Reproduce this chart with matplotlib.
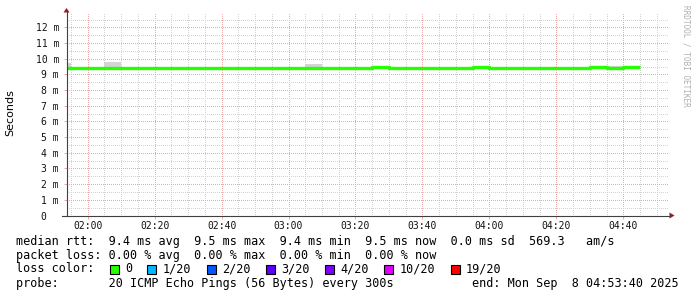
import matplotlib
matplotlib.use("Agg")
import matplotlib.pyplot as plt
from matplotlib.lines import Line2D
from matplotlib.patches import Polygon, Rectangle
from matplotlib.ticker import MultipleLocator, FuncFormatter

W, H = 697, 297

# 5 minute rrd steps (start of each step)
slot_start = ["01:50", "01:55", "02:00", "02:05", "02:10", "02:15", "02:20",
              "02:25", "02:30", "02:35", "02:40", "02:45", "02:50", "02:55",
              "03:00", "03:05", "03:10", "03:15", "03:20", "03:25", "03:30",
              "03:35", "03:40", "03:45", "03:50", "03:55", "04:00", "04:05",
              "04:10", "04:15", "04:20", "04:25", "04:30", "04:35", "04:40"]
median_ms = [9.44, 9.44, 9.38, 9.44, 9.44, 9.38, 9.44, 9.44, 9.44, 9.44,
             9.44, 9.39, 9.44, 9.42, 9.44, 9.44, 9.44, 9.44, 9.44, 9.46,
             9.44, 9.44, 9.44, 9.44, 9.38, 9.50, 9.44, 9.38, 9.44, 9.44,
             9.44, 9.44, 9.48, 9.40, 9.50]
smoke_lo = [9.44, 9.44, 9.38, 9.44, 9.44, 9.38, 9.44, 9.44, 9.44, 9.44,
            9.44, 9.39, 9.33, 9.33, 9.44, 9.44, 9.44, 9.44, 9.44, 9.37,
            9.44, 9.44, 9.44, 9.44, 9.38, 9.38, 9.44, 9.27, 9.44, 9.44,
            9.44, 9.44, 9.48, 9.40, 9.39]
smoke_hi = [9.73, 9.44, 9.38, 9.79, 9.44, 9.38, 9.44, 9.44, 9.44, 9.44,
            9.44, 9.47, 9.44, 9.42, 9.44, 9.68, 9.44, 9.44, 9.44, 9.46,
            9.44, 9.44, 9.44, 9.44, 9.38, 9.50, 9.44, 9.38, 9.44, 9.44,
            9.44, 9.44, 9.48, 9.52, 9.50]
slot_end = "04:45"
t_start = "01:53:40"
t_end = "04:53:40"

loss_labels = ["0", "1/20", "2/20", "3/20", "4/20", "10/20", "19/20"]
loss_colors = ["#26ff00", "#00b8ff", "#0059ff", "#5e00ff", "#7e00ff", "#dd00ff", "#ff0000"]

legend_rows = [
    "median rtt:  9.4 ms avg  9.5 ms max  9.4 ms min  9.5 ms now  0.0 ms sd  569.3   am/s",
    "packet loss: 0.00 % avg  0.00 % max  0.00 % min  0.00 % now",
]
probe_text = "probe:       20 ICMP Echo Pings (56 Bytes) every 300s"
end_text = "end: Mon Sep  8 04:53:40 2025"


def to_min(s):
    parts = [int(p) for p in s.split(":")]
    while len(parts) < 3:
        parts.append(0)
    return parts[0] * 60 + parts[1] + parts[2] / 60.0


def fx(x):
    return x / W


def fy(y):
    return 1 - y / H


mono = "DejaVu Sans Mono"

fig = plt.figure(figsize=(W / 100, H / 100), dpi=100)
ax_l, ax_r, ax_t, ax_b = 66.5, 669, 13, 215.5
ax = fig.add_axes([fx(ax_l), fy(ax_b), (ax_r - ax_l) / W, (ax_b - ax_t) / H])

xs = [to_min(s) for s in slot_start] + [to_min(slot_end)]
med = median_ms + [median_ms[-1]]
lo = smoke_lo + [smoke_lo[-1]]
hi = smoke_hi + [smoke_hi[-1]]

ax.fill_between(xs, lo, hi, step="post", color="#d4d4d4", lw=0, zorder=2)
ax.step(xs, med, where="post", color=loss_colors[0], lw=2.4,
        solid_capstyle="butt", zorder=3)

ax.set_xlim(to_min(t_start), to_min(t_end))
ax.set_ylim(0, 12.92)

ax.xaxis.set_major_locator(MultipleLocator(20))
ax.xaxis.set_minor_locator(MultipleLocator(5))
ax.yaxis.set_major_locator(MultipleLocator(1))
ax.yaxis.set_minor_locator(MultipleLocator(0.5))
ax.xaxis.set_major_formatter(FuncFormatter(
    lambda v, p: "%02d:%02d" % (int(round(v)) // 60, int(round(v)) % 60)))
ax.yaxis.set_major_formatter(FuncFormatter(
    lambda v, p: "0  " if abs(v) < 1e-9 else "%d m" % round(v)))

ax.set_axisbelow(True)
ax.grid(which="minor", color="#d2d2d2", ls=(0, (1, 2)), lw=0.72, antialiased=False)
ax.grid(which="major", color="#eaabab", ls=(0, (1, 2)), lw=0.72, antialiased=False)

ax.tick_params(which="major", length=2.2, width=0.72, color="#eaabab")
ax.tick_params(which="minor", length=0)
ax.tick_params(axis="y", pad=3.2)
ax.tick_params(axis="x", pad=1.5)
for lab in ax.get_xticklabels() + ax.get_yticklabels():
    lab.set_family(mono)
    lab.set_fontsize(7)
    lab.set_color("#111111")

for s in ax.spines.values():
    s.set_visible(False)

# axes with arrows, rrdtool style
fig.add_artist(Line2D([fx(ax_l), fx(ax_l)], [fy(ax_b), fy(10)], color="#404040", lw=0.8))
fig.add_artist(Line2D([fx(62), fx(671)], [fy(ax_b), fy(ax_b)], color="#404040", lw=0.8))
fig.add_artist(Polygon([(fx(63.5), fy(12.5)), (fx(69.5), fy(12.5)), (fx(66.5), fy(8))],
                       closed=True, color="#a01818", lw=0))
fig.add_artist(Polygon([(fx(669.5), fy(212.5)), (fx(669.5), fy(218.5)), (fx(674.5), fy(215.5))],
                       closed=True, color="#a01818", lw=0))

fig.text(fx(10), fy(113), "Seconds", rotation=90, ha="center", va="center", fontsize=8)
fig.text(fx(686), fy(5), "RRDTOOL / TOBI OETIKER", rotation=-90, ha="center", va="top",
         fontsize=5.6, color="#b0b0b0", family=mono)

row_y = [241.5, 255.5, 269, 283]
fsz = 8.5
cw = 7.1
for txt, y in zip(legend_rows, row_y[:2]):
    fig.text(fx(16), fy(y), txt, family=mono, fontsize=fsz, va="center", ha="left")

fig.text(fx(16), fy(row_y[2]), "loss color:", family=mono, fontsize=fsz, va="center", ha="left")
bx = 109.5
for lab, col in zip(loss_labels, loss_colors):
    fig.add_artist(Rectangle((fx(bx), fy(row_y[2] + 4.5)), 9 / W, 9 / H,
                             facecolor=col, edgecolor="black", lw=0.8))
    fig.text(fx(bx + 15.3), fy(row_y[2]), lab, family=mono, fontsize=fsz, va="center", ha="left")
    bx = bx + 15.3 + len(lab) * cw + 15.5

fig.text(fx(16), fy(row_y[3]), probe_text, family=mono, fontsize=fsz, va="center", ha="left")
fig.text(fx(679), fy(row_y[3]), end_text, family=mono, fontsize=fsz, va="center", ha="right")

fig.savefig("out.png", dpi=100)
